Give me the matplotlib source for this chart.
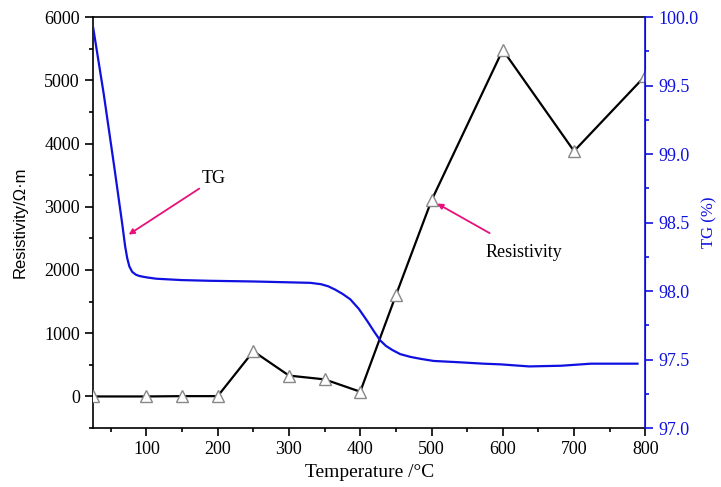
import matplotlib.pyplot as plt
from matplotlib.ticker import MultipleLocator

# Resistivity measurements (marked points)
temp_res = [25, 100, 150, 200, 250, 300, 350, 400, 450, 500, 600, 700, 800]
resistivity = [0, 0, 5, 5, 715, 330, 270, 75, 1600, 3100, 5480, 3880, 5070]

# TG curve
temp_tg = [25, 40, 55, 66, 70, 73, 76, 80, 85, 90, 100, 114, 150, 189, 250,
           330, 345, 355, 365, 375, 386, 398, 410, 420, 428, 436, 445, 456,
           470, 485, 503, 540, 573, 597, 637, 682, 724, 760, 789]
tg = [99.93, 99.44, 98.90, 98.49, 98.33, 98.24, 98.18, 98.14, 98.12, 98.11,
      98.10, 98.09, 98.08, 98.075, 98.07, 98.06, 98.05, 98.035, 98.01, 97.98,
      97.94, 97.87, 97.78, 97.70, 97.64, 97.60, 97.57, 97.54, 97.52, 97.505,
      97.49, 97.48, 97.47, 97.465, 97.45, 97.455, 97.47, 97.47, 97.47]

BLUE = "#1010e0"
PINK = "#e8107a"
SERIF = "Liberation Serif"

fig = plt.figure(figsize=(7.21, 4.87), dpi=100)
ax = fig.add_axes([0.129, 0.121, 0.766, 0.844])
ax2 = ax.twinx()

ax.plot(temp_res, resistivity, color="black", linewidth=1.6, marker="^",
        markersize=8, markerfacecolor="white", markeredgecolor="#888888",
        markeredgewidth=1.0, zorder=3)
ax2.plot(temp_tg, tg, color=BLUE, linewidth=1.6)

ax.set_xlim(25, 800)
ax.set_ylim(-500, 6000)
ax2.set_ylim(97.0, 100.0)

ax.xaxis.set_major_locator(MultipleLocator(100))
ax.xaxis.set_minor_locator(MultipleLocator(50))
ax.yaxis.set_major_locator(MultipleLocator(1000))
ax.yaxis.set_minor_locator(MultipleLocator(500))
ax2.yaxis.set_major_locator(MultipleLocator(0.5))
ax2.yaxis.set_minor_locator(MultipleLocator(0.25))
ax2.yaxis.set_major_formatter(plt.FormatStrFormatter("%.1f"))

ax.tick_params(which="major", direction="out", length=6, width=1.2,
               labelsize=13)
ax.tick_params(which="minor", direction="out", length=3, width=1.2)
ax2.tick_params(which="major", direction="out", length=6, width=1.2,
                colors=BLUE, labelsize=13)
ax2.tick_params(which="minor", direction="out", length=3, width=1.2,
                colors=BLUE)
for lab in ax.get_xticklabels() + ax.get_yticklabels() + ax2.get_yticklabels():
    lab.set_fontfamily(SERIF)

for s in ["left", "bottom", "top"]:
    ax.spines[s].set_linewidth(1.2)
ax2.spines["right"].set_color(BLUE)
ax2.spines["right"].set_linewidth(1.2)
for s in ["left", "bottom", "top"]:
    ax2.spines[s].set_visible(False)

ax.set_xlabel("Temperature /\u00b0C", fontfamily=SERIF, fontsize=14)
ax.set_ylabel("Resistivity/\u03a9\u00b7m", fontfamily="Liberation Sans",
              fontsize=12, labelpad=12)
ax2.set_ylabel("TG (%)", fontfamily=SERIF, fontsize=12, color=BLUE,
               labelpad=2)

ax.annotate("TG", xy=(75, 2560), xytext=(178, 3440), textcoords="data",
            fontfamily=SERIF, fontsize=13, va="center", ha="left",
            arrowprops=dict(arrowstyle="-|>", color=PINK, lw=1.3,
                            mutation_scale=8, shrinkA=0, shrinkB=0))
ax.annotate("Resistivity", xy=(508, 3050), xytext=(630, 2275),
            textcoords="data", fontfamily=SERIF, fontsize=13,
            va="center", ha="center",
            arrowprops=dict(arrowstyle="-|>", color=PINK, lw=1.3,
                            mutation_scale=8, shrinkA=12, shrinkB=0))

fig.savefig("out.png", dpi=100)
